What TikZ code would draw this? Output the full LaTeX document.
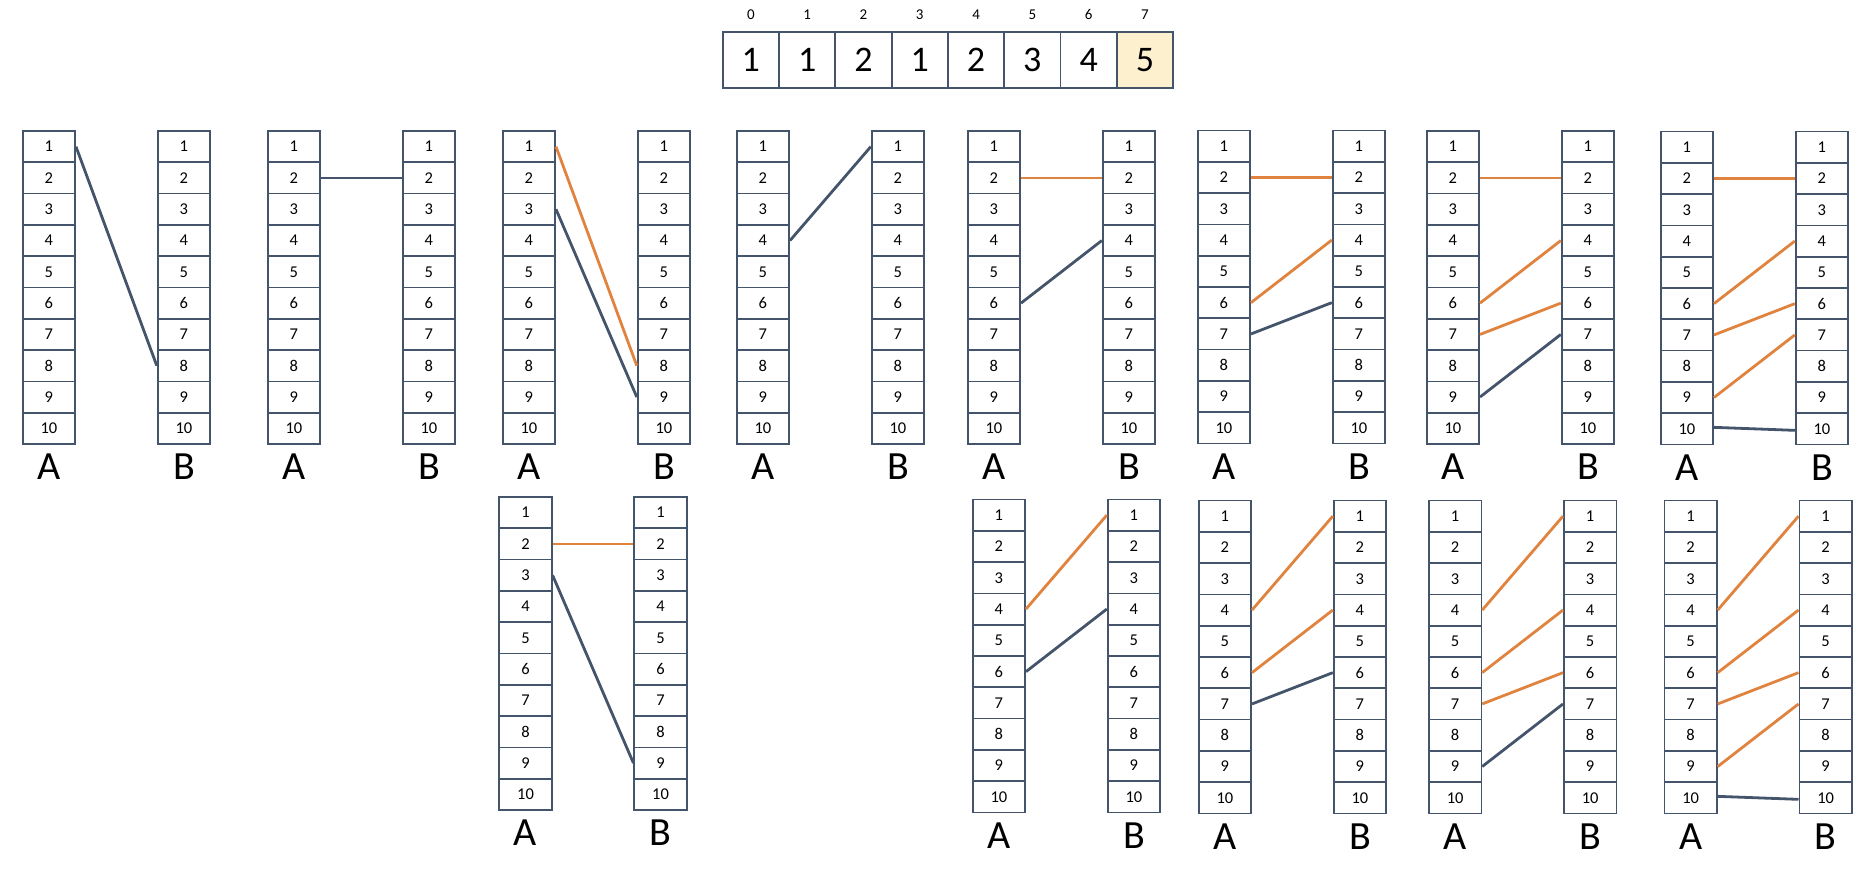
\documentclass[tikz,border=0pt]{standalone}
\usepackage{fontspec}
\setmainfont{Carlito}
\usepackage{xcolor}
\definecolor{slate}{HTML}{44546A}
\definecolor{hitorange}{HTML}{E0833F}
\definecolor{lastslot}{HTML}{FCF0CF}
\usetikzlibrary{positioning}

% one A/B pair of columns: name, left x, top y
\newcommand{\seqpair}[3]{%
  \foreach \k in {1,...,10}{%
    \node[cell] (#1a\k) at ({#2+26.2}, {#3+15.65+31.3*(\k-1)}) {\k};
    \node[cell] (#1b\k) at ({#2+161.2}, {#3+15.65+31.3*(\k-1)}) {\k};
  }
  \node[seqname] (#1na) at ({#2+26.2}, {#3+336}) {A};
  \node[seqname] (#1nb) at ({#2+161.2}, {#3+336}) {B};
}

\begin{document}
\begin{tikzpicture}[
  x=1pt, y=-1pt,
  cell/.style={draw=slate, line width=1.7pt, fill=white, inner sep=0pt,
               minimum width=52.5pt, minimum height=31.3pt,
               font=\fontsize{16.5}{17}\selectfont},
  slot/.style={draw=slate, line width=1.9pt, fill=white, inner sep=0pt,
               minimum width=56.3pt, minimum height=55.4pt,
               font=\fontsize{36}{37}\selectfont},
  idx/.style={inner sep=0pt, font=\fontsize{15}{15}\selectfont},
  seqname/.style={inner sep=0pt, font=\fontsize{40}{40}\selectfont},
  link/.style={slate, line width=2.8pt},
  hit/.style={hitorange, line width=2.8pt}
]
  \useasboundingbox (0,0) rectangle (1872,890);

  % dp table
  \foreach \v [count=\i from 0] in {1,1,2,1,2,3,4}{
    \node[slot] (s\i) at ({750.85+56.3*\i}, 60) {\v};
    \node[idx, above=11.5pt of s\i] (i\i) {\i};
  }
  \node[slot, fill=lastslot] (s7) at ({750.85+56.3*7}, 60) {5};
  \node[idx, above=11.5pt of s7] (i7) {7};

  % top row
  \seqpair{p}{22.7}{131}
  \seqpair{q}{267.7}{131}
  \seqpair{r}{502.7}{131}
  \seqpair{s}{736.7}{131}
  \seqpair{t}{967.7}{131}
  \seqpair{u}{1197.7}{130.5}
  \seqpair{v}{1426.7}{131}
  \seqpair{w}{1660.7}{131.5}
  % bottom row
  \seqpair{bq}{499.3}{497}
  \seqpair{bt}{972.7}{499.5}
  \seqpair{bu}{1198.7}{500.5}
  \seqpair{bv}{1428.9}{500.5}
  \seqpair{bw}{1664.4}{500.5}

  \draw[link] (pa1.east) -- (pb8.west);

  \draw[link] (qa2.east) -- (qb2.west);

  \draw[hit]  (ra1.east) -- (rb8.west);
  \draw[link] (ra3.east) -- (rb9.west);

  \draw[link] (sa4.east) -- (sb1.west);

  \draw[hit]  (ta2.east) -- (tb2.west);
  \draw[link] (ta6.east) -- (tb4.west);

  \draw[hit]  (ua2.east) -- (ub2.west);
  \draw[hit]  (ua6.east) -- (ub4.west);
  \draw[link] (ua7.east) -- (ub6.west);

  \draw[hit]  (va2.east) -- (vb2.west);
  \draw[hit]  (va6.east) -- (vb4.west);
  \draw[hit]  (va7.east) -- (vb6.west);
  \draw[link] (va9.east) -- (vb7.west);

  \draw[hit]  (wa2.east) -- (wb2.west);
  \draw[hit]  (wa6.east) -- (wb4.west);
  \draw[hit]  (wa7.east) -- (wb6.west);
  \draw[hit]  (wa9.east) -- (wb7.west);
  \draw[link] ([yshift=1.5pt]wa10.east) -- ([yshift=-1.5pt]wb10.west);

  \draw[hit]  (bqa2.east) -- (bqb2.west);
  \draw[link] (bqa3.east) -- (bqb9.west);

  \draw[hit]  (bta4.east) -- (btb1.west);
  \draw[link] (bta6.east) -- (btb4.west);

  \draw[hit]  (bua4.east) -- (bub1.west);
  \draw[hit]  (bua6.east) -- (bub4.west);
  \draw[link] (bua7.east) -- (bub6.west);

  \draw[hit]  (bva4.east) -- (bvb1.west);
  \draw[hit]  (bva6.east) -- (bvb4.west);
  \draw[hit]  (bva7.east) -- (bvb6.west);
  \draw[link] (bva9.east) -- (bvb7.west);

  \draw[hit]  (bwa4.east) -- (bwb1.west);
  \draw[hit]  (bwa6.east) -- (bwb4.west);
  \draw[hit]  (bwa7.east) -- (bwb6.west);
  \draw[hit]  (bwa9.east) -- (bwb7.west);
  \draw[link] ([yshift=1.5pt]bwa10.east) -- ([yshift=-1.5pt]bwb10.west);
\end{tikzpicture}
\end{document}
